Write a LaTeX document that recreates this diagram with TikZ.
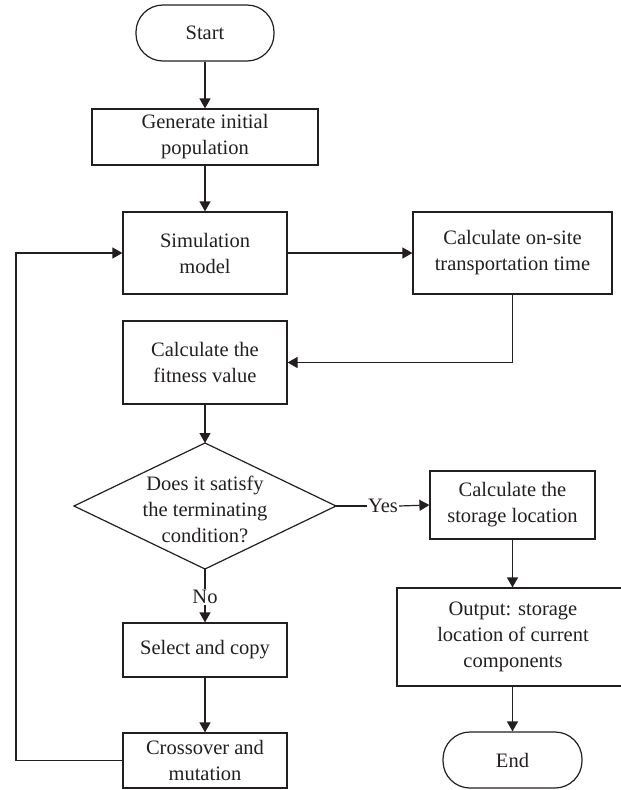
\documentclass[tikz,border=0pt]{standalone}
\usepackage{fontspec}
\setmainfont{Liberation Serif}
\usetikzlibrary{arrows.meta,calc}
\definecolor{ink}{HTML}{231F20}
\begin{document}
\begin{tikzpicture}[x=1pt,y=-1pt,
  every node/.style={font=\fontsize{20.5}{26}\selectfont, text=ink, align=center},
  box/.style={draw=ink, line width=1.2pt, inner sep=2pt},
  term/.style={box, rounded corners=27pt},
  link/.style={draw=ink, line width=1.2pt},
  arr/.style={link, -{Triangle[length=10pt,width=11pt]}},
  lbl/.style={inner sep=1pt}]
\useasboundingbox (0,0) rectangle (621,790);

% left column
\node[term, minimum width=138pt, minimum height=56pt] (start) at (205,33) {Start};
\node[box, minimum width=226pt, minimum height=56pt] (gen) at (205,137) {Generate initial\\population};
\node[box, minimum width=164pt, minimum height=82pt] (sim) at (205,253) {Simulation\\model};
\node[box, minimum width=164pt, minimum height=83pt] (fit) at (205,362.5) {Calculate the\\fitness value};

% decision diamond
\coordinate (dia) at (205,506);
\coordinate (dian) at (205,443);
\coordinate (dias) at (205,569);
\coordinate (diae) at (336,506);
\coordinate (diaw) at (74,506);
\draw[link] (dian) -- (diae) -- (dias) -- (diaw) -- cycle;
\node (diatext) at (205,509) {Does it satisfy\\the terminating\\condition?};

\node[lbl] (no) at (205,597) {No};
\node[box, minimum width=164pt, minimum height=54pt] (sel) at (205,650) {Select and copy};
\node[box, minimum width=164pt, minimum height=55pt] (cro) at (205,760.5) {Crossover and\\mutation};

% right column
\node[box, minimum width=199pt, minimum height=82pt] (ons) at (512.5,253) {Calculate on-site\\transportation time};
\node[lbl] (yes) at (383,506) {Yes};
\node[box, minimum width=165pt, minimum height=68pt] (stor) at (512.5,505) {Calculate the\\storage location};
\node[box, minimum width=232pt, minimum height=98pt] (out) at (513,637) {Output: storage\\location of current\\components};
\node[term, minimum width=139pt, minimum height=56pt] (endn) at (512.5,760) {End};

% connectors
\draw[arr] (start) -- (gen);
\draw[arr] (gen) -- (sim);
\draw[arr] (sim) -- (ons);
\draw[arr] (ons.south) |- (fit.east);
\draw[arr] (fit) -- (dian);
\draw[link] (diae) -- (yes.west);
\draw[arr] (yes.east) -- (stor.west);
\draw[arr] (stor.south) -- (stor.south |- out.north);
\draw[arr] (out.south -| endn.north) -- (endn.north);
\draw[link] (dias) -- (no.north);
\draw[arr] (no.south) -- (sel.north);
\draw[arr] (sel) -- (cro);
\coordinate (lp) at (16,760.5);
\draw[arr] (cro.west) -- (lp) |- (sim.west);
\end{tikzpicture}
\end{document}
